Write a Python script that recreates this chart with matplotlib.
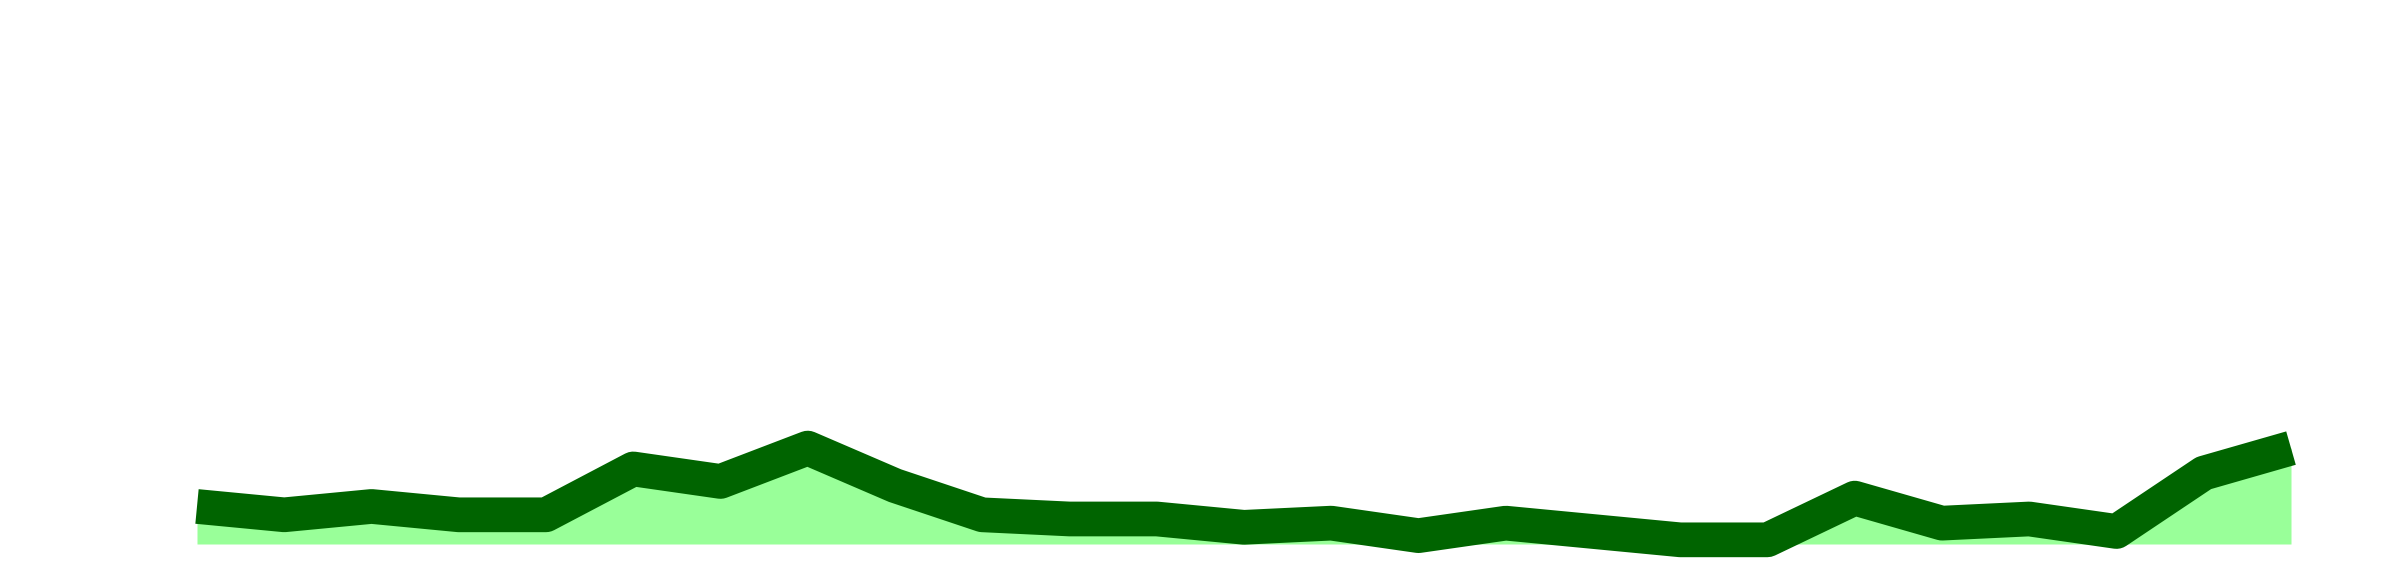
import numpy as np
import matplotlib
matplotlib.use("Agg")
import matplotlib.pyplot as plt

# values, one per step
steps = np.arange(25)
values = [9, 7, 9, 7, 7, 18, 15, 23, 14, 7, 6, 6, 4, 5, 2, 5, 3, 1, 1, 11, 5, 6, 3, 17, 23]

line_color = "#006400"
fill_color = "#99ff99"

fig = plt.figure(figsize=(24, 5.7), dpi=100)
# axes placed so the baseline sits at y=544px and the series spans x=197..2291px
ax = fig.add_axes([197 / 2400, 26 / 570, 2094 / 2400, 417 / 570])
ax.set_xlim(0, 24)
ax.set_ylim(0, 100)
ax.axis("off")

ax.fill_between(steps, values, 0, color=fill_color, linewidth=0, zorder=1)
ax.plot(steps, values, color=line_color, linewidth=25, solid_joinstyle="round",
        solid_capstyle="butt", clip_on=False, zorder=2)

fig.savefig("out.png", dpi=100)
